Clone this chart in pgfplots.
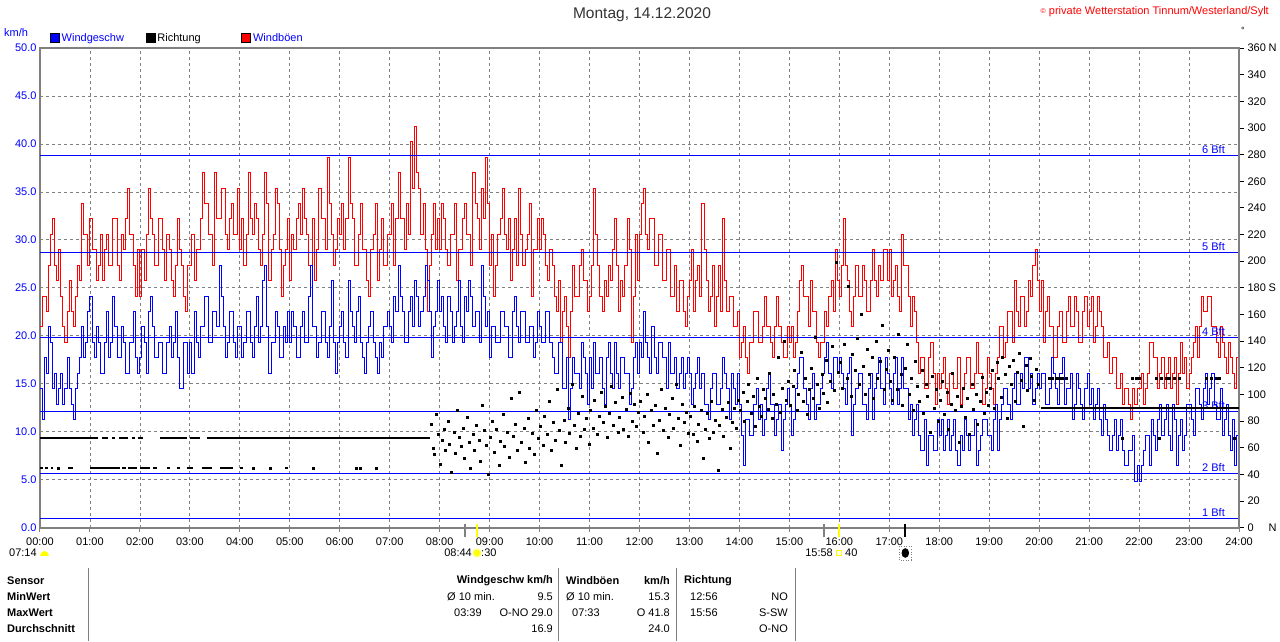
\documentclass[border=0pt]{standalone}
\usepackage{fontspec}
\setmainfont{Liberation Sans}
\usepackage{pgfplots}
\usepackage{pgfplotstable}
\pgfplotsset{compat=1.18}
\definecolor{yel}{RGB}{255,255,0}
\definecolor{gr}{RGB}{128,128,128}
\newcommand\fs{\fontsize{11}{13}\selectfont}
\newcommand\fb{\fontsize{11}{13}\selectfont\bfseries}

% wind speed, 2.5-minute steps, in mph (converted to km/h when plotted)
\pgfplotstableread[row sep=\\]{v\\
9\\ 7\\ 11\\ 10\\ 13\\ 12\\ 9\\ 10\\ 8\\ 9\\ 10\\ 8\\ 9\\ 11\\ 9\\ 8\\ 7\\ 9\\ 10\\ 11\\ 13\\ 11\\ 12\\ 14\\
15\\ 12\\ 11\\ 13\\ 12\\ 10\\ 10\\ 12\\ 14\\ 11\\ 12\\ 15\\ 13\\ 11\\ 11\\ 13\\ 12\\ 10\\ 10\\ 12\\ 12\\ 14\\ 11\\ 10\\
11\\ 13\\ 12\\ 10\\ 14\\ 15\\ 13\\ 11\\ 11\\ 12\\ 12\\ 10\\ 10\\ 12\\ 13\\ 11\\ 12\\ 14\\ 11\\ 9\\ 9\\ 12\\ 12\\ 10\\
12\\ 10\\ 14\\ 12\\ 11\\ 13\\ 13\\ 15\\ 15\\ 12\\ 12\\ 14\\ 14\\ 13\\ 17\\ 15\\ 13\\ 11\\ 12\\ 14\\ 14\\ 12\\ 11\\ 13\\
13\\ 11\\ 12\\ 14\\ 14\\ 12\\ 11\\ 13\\ 15\\ 12\\ 13\\ 16\\ 17\\ 13\\ 10\\ 12\\ 12\\ 14\\ 13\\ 11\\ 11\\ 13\\ 12\\ 14\\
12\\ 14\\ 13\\ 11\\ 11\\ 13\\ 14\\ 12\\ 12\\ 15\\ 17\\ 13\\ 13\\ 11\\ 12\\ 14\\ 14\\ 12\\ 11\\ 13\\ 16\\ 12\\ 10\\ 12\\
13\\ 14\\ 12\\ 11\\ 16\\ 14\\ 13\\ 12\\ 14\\ 15\\ 12\\ 11\\ 10\\ 12\\ 13\\ 14\\ 12\\ 11\\ 10\\ 12\\ 11\\ 13\\ 13\\ 14\\
13\\ 12\\ 15\\ 14\\ 17\\ 15\\ 14\\ 12\\ 12\\ 14\\ 15\\ 13\\ 16\\ 15\\ 13\\ 14\\ 15\\ 17\\ 16\\ 14\\ 11\\ 13\\ 14\\ 16\\
14\\ 15\\ 13\\ 12\\ 15\\ 14\\ 12\\ 13\\ 14\\ 16\\ 13\\ 12\\ 15\\ 14\\ 16\\ 15\\ 13\\ 14\\ 14\\ 12\\ 17\\ 15\\ 13\\ 14\\
11\\ 13\\ 13\\ 12\\ 12\\ 14\\ 14\\ 13\\ 13\\ 11\\ 11\\ 14\\ 15\\ 13\\ 12\\ 14\\ 14\\ 12\\ 12\\ 13\\ 13\\ 11\\ 12\\ 14\\
13\\ 12\\ 12\\ 14\\ 14\\ 12\\ 11\\ 10\\ 10\\ 12\\ 12\\ 9\\ 9\\ 11\\ 7\\ 9\\ 11\\ 10\\ 10\\ 9\\ 12\\ 11\\ 10\\ 8\\
11\\ 9\\ 12\\ 10\\ 10\\ 11\\ 9\\ 8\\ 11\\ 12\\ 10\\ 9\\ 12\\ 10\\ 9\\ 11\\ 11\\ 10\\ 10\\ 8\\ 9\\ 11\\ 12\\ 10\\
12\\ 11\\ 14\\ 12\\ 11\\ 10\\ 13\\ 11\\ 10\\ 12\\ 12\\ 11\\ 11\\ 9\\ 12\\ 10\\ 10\\ 11\\ 9\\ 10\\ 11\\ 9\\ 10\\ 11\\
10\\ 8\\ 9\\ 10\\ 11\\ 9\\ 10\\ 8\\ 8\\ 7\\ 9\\ 10\\ 10\\ 8\\ 8\\ 9\\ 11\\ 10\\ 9\\ 7\\ 10\\ 9\\ 8\\ 10\\
8\\ 6\\ 4\\ 7\\ 7\\ 6\\ 6\\ 8\\ 9\\ 7\\ 8\\ 6\\ 7\\ 9\\ 10\\ 8\\ 8\\ 6\\ 7\\ 8\\ 5\\ 7\\ 8\\ 9\\
8\\ 6\\ 7\\ 9\\ 10\\ 11\\ 11\\ 9\\ 8\\ 7\\ 9\\ 10\\ 7\\ 8\\ 8\\ 9\\ 10\\ 11\\ 12\\ 10\\ 9\\ 11\\ 11\\ 10\\
11\\ 10\\ 9\\ 8\\ 10\\ 11\\ 6\\ 8\\ 9\\ 10\\ 10\\ 8\\ 8\\ 7\\ 9\\ 10\\ 7\\ 9\\ 10\\ 11\\ 9\\ 8\\ 11\\ 10\\
9\\ 8\\ 10\\ 11\\ 8\\ 9\\ 11\\ 9\\ 9\\ 7\\ 8\\ 6\\ 7\\ 8\\ 6\\ 5\\ 5\\ 7\\ 4\\ 6\\ 6\\ 5\\ 5\\ 7\\
6\\ 7\\ 5\\ 6\\ 7\\ 5\\ 6\\ 7\\ 5\\ 4\\ 6\\ 5\\ 7\\ 6\\ 5\\ 6\\ 6\\ 7\\ 4\\ 5\\ 6\\ 7\\ 7\\ 6\\
6\\ 5\\ 7\\ 8\\ 5\\ 7\\ 8\\ 9\\ 9\\ 8\\ 7\\ 9\\ 10\\ 8\\ 8\\ 10\\ 9\\ 11\\ 11\\ 9\\ 10\\ 8\\ 9\\ 10\\
9\\ 10\\ 10\\ 8\\ 8\\ 9\\ 11\\ 10\\ 9\\ 8\\ 10\\ 11\\ 8\\ 9\\ 9\\ 10\\ 7\\ 8\\ 10\\ 9\\ 8\\ 7\\ 9\\ 10\\
8\\ 9\\ 7\\ 8\\ 9\\ 7\\ 6\\ 8\\ 7\\ 6\\ 5\\ 6\\ 7\\ 5\\ 6\\ 7\\ 5\\ 4\\ 4\\ 5\\ 5\\ 6\\ 3\\ 4\\
3\\ 4\\ 5\\ 6\\ 6\\ 4\\ 7\\ 6\\ 5\\ 7\\ 8\\ 6\\ 7\\ 8\\ 6\\ 5\\ 8\\ 7\\ 4\\ 6\\ 7\\ 5\\ 6\\ 8\\
8\\ 7\\ 6\\ 9\\ 9\\ 8\\ 7\\ 9\\ 10\\ 8\\ 9\\ 10\\ 8\\ 7\\ 7\\ 9\\ 6\\ 7\\ 8\\ 6\\ 5\\ 7\\ 4\\ 6\\
4\\
}\spd

% gusts, 2.5-minute steps, in mph
\pgfplotstableread[row sep=\\]{v\\
13\\ 15\\ 15\\ 14\\ 17\\ 19\\ 20\\ 17\\ 16\\ 18\\ 15\\ 13\\ 12\\ 14\\ 16\\ 14\\ 13\\ 15\\ 17\\ 16\\ 21\\ 19\\ 19\\ 17\\
20\\ 18\\ 18\\ 16\\ 17\\ 19\\ 16\\ 18\\ 19\\ 17\\ 17\\ 20\\ 20\\ 17\\ 16\\ 19\\ 18\\ 20\\ 22\\ 19\\ 19\\ 17\\ 15\\ 18\\
15\\ 18\\ 16\\ 19\\ 22\\ 20\\ 19\\ 17\\ 17\\ 20\\ 20\\ 18\\ 16\\ 19\\ 18\\ 16\\ 15\\ 17\\ 20\\ 18\\ 17\\ 15\\ 14\\ 17\\
17\\ 19\\ 16\\ 18\\ 18\\ 20\\ 23\\ 21\\ 21\\ 19\\ 19\\ 17\\ 23\\ 20\\ 20\\ 22\\ 22\\ 19\\ 18\\ 20\\ 21\\ 19\\ 19\\ 22\\
18\\ 20\\ 17\\ 19\\ 23\\ 20\\ 19\\ 21\\ 20\\ 18\\ 17\\ 19\\ 23\\ 21\\ 16\\ 18\\ 19\\ 22\\ 21\\ 18\\ 15\\ 17\\ 18\\ 20\\
16\\ 19\\ 18\\ 20\\ 21\\ 19\\ 22\\ 20\\ 19\\ 17\\ 17\\ 20\\ 16\\ 18\\ 22\\ 20\\ 20\\ 18\\ 24\\ 21\\ 19\\ 17\\ 18\\ 20\\
19\\ 21\\ 18\\ 20\\ 24\\ 21\\ 20\\ 17\\ 17\\ 19\\ 21\\ 18\\ 18\\ 16\\ 15\\ 18\\ 19\\ 21\\ 16\\ 18\\ 20\\ 17\\ 17\\ 19\\
19\\ 21\\ 17\\ 20\\ 23\\ 20\\ 20\\ 18\\ 21\\ 19\\ 25\\ 22\\ 26\\ 23\\ 22\\ 19\\ 21\\ 18\\ 14\\ 17\\ 19\\ 21\\ 18\\ 20\\
18\\ 21\\ 20\\ 18\\ 17\\ 19\\ 19\\ 21\\ 16\\ 18\\ 18\\ 20\\ 21\\ 19\\ 19\\ 17\\ 23\\ 21\\ 20\\ 18\\ 22\\ 20\\ 24\\ 21\\
17\\ 19\\ 15\\ 17\\ 19\\ 20\\ 22\\ 19\\ 18\\ 20\\ 16\\ 18\\ 20\\ 17\\ 22\\ 19\\ 17\\ 18\\ 19\\ 21\\ 15\\ 18\\ 18\\ 20\\
18\\ 20\\ 19\\ 17\\ 16\\ 18\\ 17\\ 15\\ 14\\ 16\\ 12\\ 14\\ 15\\ 13\\ 11\\ 14\\ 17\\ 15\\ 15\\ 17\\ 18\\ 16\\ 16\\ 14\\
15\\ 17\\ 22\\ 19\\ 17\\ 15\\ 14\\ 16\\ 15\\ 17\\ 16\\ 18\\ 20\\ 17\\ 14\\ 16\\ 15\\ 17\\ 20\\ 18\\ 12\\ 15\\ 19\\ 16\\
19\\ 21\\ 22\\ 19\\ 18\\ 20\\ 20\\ 17\\ 17\\ 19\\ 19\\ 16\\ 16\\ 18\\ 18\\ 15\\ 15\\ 17\\ 14\\ 16\\ 16\\ 14\\ 13\\ 15\\
16\\ 18\\ 14\\ 16\\ 17\\ 15\\ 21\\ 18\\ 16\\ 14\\ 15\\ 17\\ 13\\ 15\\ 17\\ 14\\ 20\\ 16\\ 14\\ 15\\ 15\\ 13\\ 13\\ 14\\
11\\ 12\\ 13\\ 11\\ 10\\ 12\\ 12\\ 14\\ 14\\ 12\\ 12\\ 13\\ 15\\ 13\\ 13\\ 12\\ 11\\ 13\\ 15\\ 13\\ 12\\ 11\\ 11\\ 13\\
12\\ 13\\ 11\\ 12\\ 14\\ 16\\ 17\\ 15\\ 15\\ 13\\ 16\\ 14\\ 14\\ 12\\ 11\\ 12\\ 12\\ 14\\ 13\\ 15\\ 16\\ 14\\ 18\\ 16\\
15\\ 17\\ 20\\ 17\\ 16\\ 14\\ 13\\ 15\\ 17\\ 15\\ 15\\ 17\\ 16\\ 14\\ 14\\ 16\\ 18\\ 16\\ 15\\ 17\\ 16\\ 18\\ 18\\ 16\\
18\\ 15\\ 16\\ 17\\ 15\\ 14\\ 19\\ 17\\ 17\\ 15\\ 13\\ 15\\ 14\\ 12\\ 10\\ 11\\ 11\\ 9\\ 9\\ 11\\ 12\\ 10\\ 8\\ 10\\
9\\ 10\\ 11\\ 9\\ 8\\ 10\\ 10\\ 9\\ 9\\ 11\\ 8\\ 9\\ 10\\ 11\\ 11\\ 9\\ 9\\ 10\\ 12\\ 10\\ 10\\ 8\\ 9\\ 11\\
10\\ 9\\ 8\\ 10\\ 11\\ 13\\ 13\\ 11\\ 12\\ 14\\ 14\\ 12\\ 16\\ 14\\ 13\\ 15\\ 15\\ 13\\ 14\\ 16\\ 15\\ 17\\ 18\\ 16\\
14\\ 16\\ 12\\ 14\\ 15\\ 13\\ 13\\ 11\\ 11\\ 13\\ 14\\ 12\\ 12\\ 14\\ 15\\ 13\\ 13\\ 15\\ 14\\ 12\\ 12\\ 14\\ 15\\ 13\\
14\\ 15\\ 12\\ 13\\ 15\\ 14\\ 13\\ 11\\ 11\\ 12\\ 10\\ 11\\ 11\\ 9\\ 9\\ 10\\ 8\\ 9\\ 9\\ 8\\ 7\\ 9\\ 8\\ 9\\
9\\ 10\\ 8\\ 9\\ 10\\ 12\\ 12\\ 11\\ 11\\ 9\\ 10\\ 11\\ 9\\ 10\\ 11\\ 9\\ 10\\ 11\\ 8\\ 10\\ 12\\ 10\\ 11\\ 9\\
10\\ 11\\ 12\\ 13\\ 11\\ 13\\ 15\\ 14\\ 14\\ 15\\ 15\\ 13\\ 13\\ 12\\ 11\\ 13\\ 12\\ 11\\ 10\\ 12\\ 11\\ 10\\ 9\\ 11\\
9\\
}\gust

% direction: continuous stretches (minutes, degrees)
\pgfplotstableread[row sep=\\]{t d\\
0 67.5\\ 70 67.5\\ 72 nan\\ 74 67.5\\ 82 67.5\\ 84 nan\\ 86 67.5\\ 90 67.5\\ 92 nan\\
95 67.5\\ 106 67.5\\ 108 nan\\ 110 67.5\\ 114 67.5\\ 116 nan\\ 118 67.5\\ 124 67.5\\ 130 nan\\
144 67.5\\ 177 67.5\\ 178 nan\\ 180 67.5\\ 192 67.5\\ 195 nan\\ 200 67.5\\ 468 67.5\\ 470 nan\\
0 45\\ 4 45\\ 5 nan\\ 6 45\\ 10 45\\ 11 nan\\ 13 45\\ 16 45\\ 18 nan\\ 34 45\\ 40 45\\ 45 nan\\
60 45\\ 96 45\\ 97 nan\\ 99 45\\ 103 45\\ 104 nan\\ 106 45\\ 116 45\\ 118 nan\\ 120 45\\ 132 45\\ 134 nan\\
136 45\\ 140 45\\ 145 nan\\ 152 45\\ 156 45\\ 160 nan\\ 164 45\\ 168 45\\ 170 nan\\ 176 45\\ 184 45\\ 188 nan\\
194 45\\ 206 45\\ 210 nan\\ 216 45\\ 232 45\\ 235 nan\\ 240 45\\ 244 45\\ 250 nan\\ 294 45\\ 298 45\\ 300 nan\\
1202 90\\ 1440 90\\
}\dirline

% direction: single readings (minutes, degrees)
\pgfplotstableread[row sep=\\]{t d\\
22 45\\ 256 45\\ 276 45\\ 328 45\\ 380 45\\ 384 45\\ 404 45\\
470 78\\ 472 60\\ 474 55\\ 476 85\\ 478 70\\ 481 48\\ 483 66\\ 485 74\\ 487 58\\ 490 80\\ 492 63\\ 494 42\\
497 72\\ 499 56\\ 501 88\\ 503 68\\ 506 61\\ 508 75\\ 510 52\\ 513 83\\ 515 64\\ 517 45\\ 520 70\\ 522 58\\
524 77\\ 527 66\\ 529 50\\ 531 92\\ 534 73\\ 536 62\\ 538 40\\
541 68\\ 543 80\\ 546 57\\ 548 74\\ 551 47\\ 553 65\\ 556 85\\ 558 61\\ 561 72\\ 563 53\\ 566 97\\ 568 69\\
571 78\\ 573 58\\ 576 102\\ 578 64\\ 581 75\\ 583 49\\ 586 82\\ 588 60\\ 591 71\\ 593 55\\ 596 88\\ 598 67\\
601 76\\ 604 62\\ 606 84\\ 609 70\\ 611 95\\ 614 58\\ 616 79\\ 619 66\\ 621 104\\ 624 73\\ 626 47\\ 629 81\\
631 64\\ 634 90\\ 636 71\\ 639 108\\ 641 77\\ 644 60\\ 646 86\\ 649 69\\ 651 99\\ 654 74\\ 656 82\\ 659 63\\
661 88\\ 664 75\\ 666 96\\ 669 70\\ 671 84\\ 674 102\\ 676 79\\ 679 91\\ 681 68\\ 684 86\\ 686 106\\ 689 77\\
691 94\\ 694 72\\ 696 83\\ 699 98\\ 701 74\\ 704 89\\ 706 69\\ 709 101\\ 711 80\\ 714 93\\ 716 76\\ 719 87\\
721 95\\ 724 72\\ 726 84\\ 729 100\\ 731 64\\ 734 88\\ 736 77\\ 739 92\\ 741 56\\ 744 81\\ 746 104\\ 749 73\\
751 90\\ 754 68\\ 756 85\\ 759 97\\ 761 75\\ 764 108\\ 766 82\\ 769 62\\ 771 93\\ 774 79\\ 776 87\\ 779 71\\
781 84\\ 784 70\\ 786 91\\ 789 65\\ 791 78\\ 794 88\\ 796 52\\ 799 74\\ 801 86\\ 804 67\\ 806 95\\ 809 72\\
811 81\\ 814 43\\ 816 77\\ 819 89\\ 821 69\\ 824 83\\ 826 94\\ 829 60\\ 831 79\\ 834 90\\ 836 75\\ 839 96\\
841 88\\ 844 102\\ 846 80\\ 849 95\\ 851 108\\ 854 86\\ 856 99\\ 859 76\\ 861 112\\ 864 91\\ 866 84\\ 869 104\\
871 97\\ 874 89\\ 876 116\\ 879 82\\ 881 100\\ 884 93\\ 886 128\\ 889 87\\ 891 105\\ 894 140\\ 896 96\\ 899 110\\
901 92\\ 904 106\\ 906 118\\ 909 88\\ 911 100\\ 914 132\\ 916 95\\ 919 112\\ 921 85\\ 924 104\\ 926 120\\ 929 97\\
931 143\\ 934 108\\ 936 90\\ 939 115\\ 941 101\\ 944 126\\ 946 94\\ 949 110\\ 951 136\\ 954 103\\ 956 199\\ 959 117\\
961 124\\ 964 105\\ 966 138\\ 969 112\\ 971 181\\ 974 99\\ 976 130\\ 979 118\\ 981 142\\ 984 108\\ 986 160\\ 989 121\\
991 100\\ 994 134\\ 996 115\\ 999 128\\ 1001 97\\ 1004 140\\ 1006 112\\ 1009 125\\ 1011 152\\ 1014 104\\ 1016 119\\ 1019 133\\
1021 110\\ 1024 96\\ 1026 128\\ 1029 104\\ 1031 145\\ 1034 115\\ 1036 92\\ 1039 120\\ 1041 138\\ 1044 100\\ 1046 112\\ 1049 88\\
1051 125\\ 1054 106\\ 1056 95\\ 1059 118\\ 1061 86\\ 1064 108\\ 1066 99\\ 1069 72\\ 1071 114\\ 1074 90\\ 1076 104\\ 1079 80\\
1081 96\\ 1084 110\\ 1086 85\\ 1089 102\\ 1091 74\\ 1094 93\\ 1096 116\\ 1099 88\\ 1101 99\\ 1104 64\\ 1106 91\\ 1109 105\\
1111 83\\ 1114 97\\ 1116 70\\ 1119 108\\ 1121 89\\ 1124 100\\ 1126 78\\ 1129 95\\ 1131 113\\ 1134 86\\ 1136 102\\ 1139 92\\
1141 105\\ 1144 118\\ 1146 90\\ 1149 124\\ 1151 112\\ 1154 98\\ 1156 128\\ 1159 115\\ 1161 82\\ 1164 121\\ 1166 108\\ 1169 126\\
1171 95\\ 1174 117\\ 1176 131\\ 1179 111\\ 1181 76\\ 1184 122\\ 1186 103\\ 1189 127\\ 1191 114\\ 1194 96\\ 1196 119\\ 1199 108\\
1212 112.5\\ 1216 112.5\\ 1220 112.5\\ 1224 112.5\\ 1228 112.5\\ 1232 112.5\\ 1300 67.5\\ 1312 112.5\\ 1316 112.5\\ 1320 112.5\\
1340 112.5\\ 1344 67.5\\ 1346 112.5\\ 1352 112.5\\ 1356 112.5\\ 1362 112.5\\ 1368 112.5\\ 1400 112.5\\ 1406 112.5\\ 1412 112.5\\
1416 112.5\\ 1434 67.5\\
}\dirdots

\begin{document}
\begin{tikzpicture}[x=1pt,y=1pt]
\fill[white] (0,0) rectangle (1280,641);

\begin{axis}[
  at={(40pt,113.3pt)}, anchor=south west,
  scale only axis, width=1199pt, height=479.7pt,
  xmin=0, xmax=1440, ymin=0, ymax=50,
  axis line style={draw=gr, line width=2pt},
  xtick={0,60,...,1440},
  xticklabels={00:00,01:00,02:00,03:00,04:00,05:00,06:00,07:00,08:00,09:00,10:00,11:00,12:00,13:00,14:00,15:00,16:00,17:00,18:00,19:00,20:00,21:00,22:00,23:00,24:00},
  ytick={0,5,...,50},
  yticklabels={0.0,5.0,10.0,15.0,20.0,25.0,30.0,35.0,40.0,45.0,50.0},
  xtick pos=bottom, ytick pos=left,
  xtick align=outside,
  major tick length=4pt,
  x tick style={gr, line width=1pt},
  y tick style={draw=none},
  grid=major,
  major grid style={gr, line width=0.8pt, dash pattern=on 3pt off 3pt},
  ticklabel style={font=\fs},
  xticklabel style={yshift=-3pt},
  yticklabel style={blue},
  legend style={at={(0.00834,1.0209)}, anchor=west, draw=none, fill=none,
    inner sep=0pt, outer sep=0pt, font=\fs,
    /tikz/every even column/.append style={column sep=0pt}},
  legend columns=3, legend cell align=left,
]
\addlegendimage{legend image code/.code={\draw[black,fill=blue,line width=0.7pt] (0pt,-4.5pt) rectangle (9pt,4.5pt);}}
\addlegendentry{\makebox[82pt][l]{\textcolor{blue}{Windgeschw}}}
\addlegendimage{legend image code/.code={\draw[black,fill=black,line width=0.7pt] (0pt,-4.5pt) rectangle (9pt,4.5pt);}}
\addlegendentry{\makebox[82pt][l]{Richtung}}
\addlegendimage{legend image code/.code={\draw[black,fill=red,line width=0.7pt] (0pt,-4.5pt) rectangle (9pt,4.5pt);}}
\addlegendentry{\makebox[82pt][l]{\textcolor{blue}{Windböen}}}

\addplot[red, line width=1pt, const plot, forget plot] table[x index=0, y index=0, x expr=\coordindex*2.5, y expr=\thisrowno{0}*1.609344]{\gust};
\addplot[blue, line width=1pt, const plot, forget plot] table[x index=0, y index=0, x expr=\coordindex*2.5, y expr=\thisrowno{0}*1.609344]{\spd};

\addplot[blue, line width=1pt, forget plot] coordinates {(0,1.0) (1440,1.0)};
\addplot[blue, line width=1pt, forget plot] coordinates {(0,5.7) (1440,5.7)};
\addplot[blue, line width=1pt, forget plot] coordinates {(0,12.1) (1440,12.1)};
\addplot[blue, line width=1pt, forget plot] coordinates {(0,19.8) (1440,19.8)};
\addplot[blue, line width=1pt, forget plot] coordinates {(0,28.7) (1440,28.7)};
\addplot[blue, line width=1pt, forget plot] coordinates {(0,38.8) (1440,38.8)};
\node[anchor=south east, inner sep=1.5pt, blue, font=\fs] at (axis cs:1425,1.0) {1 Bft};
\node[anchor=south east, inner sep=1.5pt, blue, font=\fs] at (axis cs:1425,5.7) {2 Bft};
\node[anchor=south east, inner sep=1.5pt, blue, font=\fs] at (axis cs:1425,12.1) {3 Bft};
\node[anchor=south east, inner sep=1.5pt, blue, font=\fs] at (axis cs:1425,19.8) {4 Bft};
\node[anchor=south east, inner sep=1.5pt, blue, font=\fs] at (axis cs:1425,28.7) {5 Bft};
\node[anchor=south east, inner sep=1.5pt, blue, font=\fs] at (axis cs:1425,38.8) {6 Bft};
\end{axis}

\begin{axis}[
  at={(40pt,113.3pt)}, anchor=south west,
  scale only axis, width=1199pt, height=479.7pt,
  xmin=0, xmax=1440, ymin=0, ymax=360,
  axis x line=none, axis y line*=right,
  axis line style={draw=gr, line width=2pt, -},
  ytick={0,20,...,360},
  yticklabels={\makebox[21pt][l]{0}N,\makebox[21pt][l]{20},\makebox[21pt][l]{40},\makebox[21pt][l]{60},\makebox[21pt][l]{80},\makebox[21pt][l]{100},\makebox[21pt][l]{120},\makebox[21pt][l]{140},\makebox[21pt][l]{160},\makebox[21pt][l]{180}S,\makebox[21pt][l]{200},\makebox[21pt][l]{220},\makebox[21pt][l]{240},\makebox[21pt][l]{260},\makebox[21pt][l]{280},\makebox[21pt][l]{300},\makebox[21pt][l]{320},\makebox[21pt][l]{340},\makebox[21pt][l]{360}N},
  ytick align=outside, major tick length=5pt,
  y tick style={black, line width=0.8pt},
  ticklabel style={font=\fs},
  unbounded coords=jump,
]
\addplot[black, line width=2pt, forget plot] table[x=t, y=d]{\dirline};
\addplot[only marks, mark=square*, mark size=1pt, black, forget plot] table[x=t, y=d]{\dirdots};
\end{axis}

% title and header texts
\node[font=\fontsize{15.5}{18}\selectfont, text=black!80] at (642,626) {Montag, 14.12.2020};
\node[anchor=east, inner sep=0pt, text=red, font=\fontsize{11}{13}\selectfont] at (1269,629) {\raisebox{1.5pt}{\fontsize{7}{8}\selectfont ©} private Wetterstation Tinnum/Westerland/Sylt};
\node[inner sep=0pt, font=\fontsize{9}{10}\selectfont] at (1243,611) {°};
\node[anchor=west, inner sep=0pt, text=blue, font=\fs] at (4,608) {km/h};

% sun / moon markers under the time axis
\draw[gr, line width=2pt] (464.5,104.3) -- (464.5,117);
\draw[yel, line width=2pt] (476.7,104.3) -- (476.7,117);
\draw[gr, line width=2pt] (823.5,104.3) -- (823.5,117);
\draw[yel, line width=2pt] (838.8,104.3) -- (838.8,117);
\draw[black, line width=2pt] (905.3,104.3) -- (905.3,117);
\node[anchor=west, inner sep=0pt, font=\fs] at (9,88) {07:14};
\fill[yel] (40,85) arc (180:0:4.5 and 5) -- cycle;
\node[anchor=east, inner sep=0pt, font=\fs] at (472,88) {08:44};
\fill[yel!60!white] (477,88) circle (4.5);
\fill[yel] (477,88) circle (3);
\node[anchor=west, inner sep=0pt, font=\fs] at (481,88) {:30};
\node[anchor=east, inner sep=0pt, font=\fs] at (833,88) {15:58};
\draw[yel, line width=1pt] (836.5,85) rectangle (841.5,90);
\node[anchor=west, inner sep=0pt, font=\fs] at (845,88) {40};
\draw[gr, dotted, line width=0.6pt] (899.5,81) rectangle (911,95);
\fill[black] (905.3,88) ellipse (3.8 and 4.8);

% statistics table
\foreach \x in {88,558,676,795}{\draw[gr, line width=1pt] (\x,0) -- (\x,73);}
\node[anchor=west, inner sep=0pt, font=\fb] at (7,60) {Sensor};
\node[anchor=west, inner sep=0pt, font=\fb] at (7,44) {MinWert};
\node[anchor=west, inner sep=0pt, font=\fb] at (7,28) {MaxWert};
\node[anchor=west, inner sep=0pt, font=\fb] at (7,12) {Durchschnitt};
\node[anchor=east, inner sep=0pt, font=\fb] at (553,60) {Windgeschw km/h};
\node[anchor=west, inner sep=0pt, font=\fs] at (447,44) {Ø 10 min.};
\node[anchor=east, inner sep=0pt, font=\fs] at (553,44) {9.5};
\node[anchor=west, inner sep=0pt, font=\fs] at (454,28) {03:39};
\node[anchor=east, inner sep=0pt, font=\fs] at (553,28) {O-NO 29.0};
\node[anchor=east, inner sep=0pt, font=\fs] at (553,12) {16.9};
\node[anchor=west, inner sep=0pt, font=\fb] at (566,60) {Windböen};
\node[anchor=east, inner sep=0pt, font=\fb] at (670,60) {km/h};
\node[anchor=west, inner sep=0pt, font=\fs] at (566,44) {Ø 10 min.};
\node[anchor=east, inner sep=0pt, font=\fs] at (670,44) {15.3};
\node[anchor=west, inner sep=0pt, font=\fs] at (572,28) {07:33};
\node[anchor=east, inner sep=0pt, font=\fs] at (670,28) {O 41.8};
\node[anchor=east, inner sep=0pt, font=\fs] at (670,12) {24.0};
\node[anchor=west, inner sep=0pt, font=\fb] at (684,60) {Richtung};
\node[anchor=west, inner sep=0pt, font=\fs] at (690,44) {12:56};
\node[anchor=east, inner sep=0pt, font=\fs] at (788,44) {NO};
\node[anchor=west, inner sep=0pt, font=\fs] at (690,28) {15:56};
\node[anchor=east, inner sep=0pt, font=\fs] at (788,28) {S-SW};
\node[anchor=east, inner sep=0pt, font=\fs] at (788,12) {O-NO};
\end{tikzpicture}
\end{document}
